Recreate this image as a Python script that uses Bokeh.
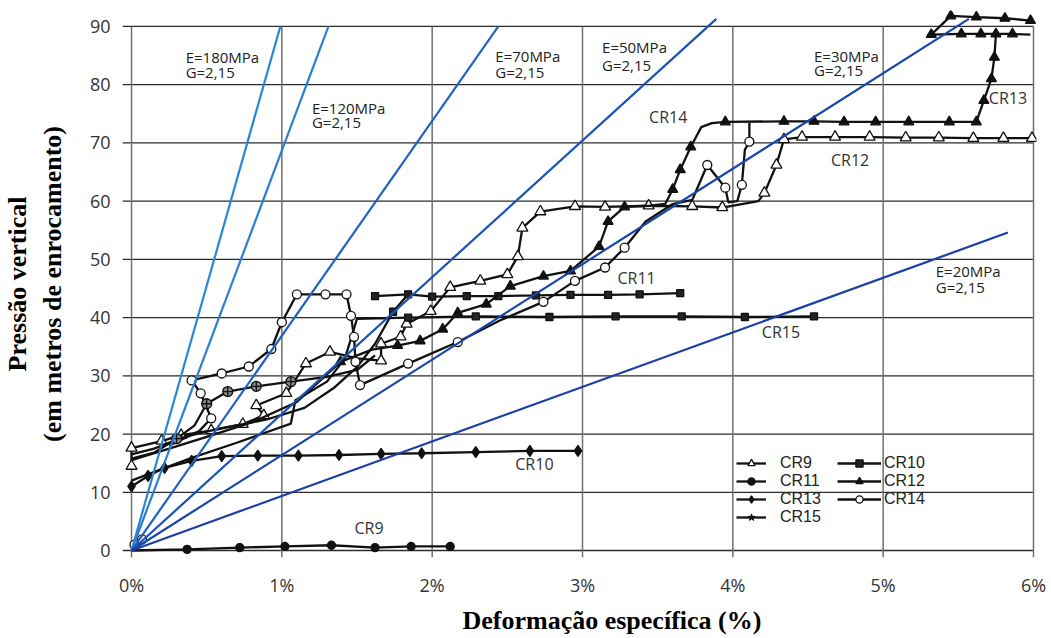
import math
from bokeh.plotting import figure
from bokeh.models import Range1d, FixedTicker, Legend, LegendItem, Title
from bokeh.core.properties import value
from bokeh.embed import file_html
from bokeh.resources import INLINE

nan = math.nan

# ---- axes -------------------------------------------------------------
x_ticks = [0, 1, 2, 3, 4, 5, 6]
x_tick_labels = ["0%", "1%", "2%", "3%", "4%", "5%", "6%"]
y_ticks = [0, 10, 20, 30, 40, 50, 60, 70, 80, 90]

# ---- modulus reference lines (from the origin) -------------------------
e_names = ["E=180MPa", "E=120MPa", "E=70MPa", "E=50MPa", "E=30MPa", "E=20MPa"]
g_names = ["G=2,15"] * 6
e_end_x = [0.99, 1.31, 2.44, 3.89, 5.57, 5.83]
e_end_y = [90.0, 90.0, 90.0, 91.3, 91.3, 54.6]

# ---- test curves (deformation %, vertical pressure m) ------------------
cr9_x = [0.00, 0.00, 0.20, 0.33, 0.53, 0.74, 0.88, 0.83, 1.03, 1.16, 1.32, 1.50, 1.66, 1.66,
         1.79, 1.83, 1.99, 2.12, 2.32, 2.50, 2.57, 2.60, 2.72, 2.95, 3.15, 3.44, 3.73, 3.93,
         4.17, 4.21, 4.29, 4.34, 4.46, 4.68, 4.91, 5.15, 5.37, 5.60, 5.80, 5.99]
cr9_y = [14.5, 17.6, 18.8, 19.8, 20.6, 21.7, 23.2, 24.9, 27.0, 32.1, 34.1, 33.0, 32.6, 35.5,
         36.7, 38.9, 41.1, 45.2, 46.3, 47.4, 50.5, 55.4, 58.2, 59.1, 59.0, 59.2, 59.1, 58.9,
         60.0, 61.4, 66.2, 70.6, 71.0, 71.0, 71.0, 70.9, 70.9, 70.8, 70.8, 70.8]
cr9_m = [1, 1, 1, 1, 1, 1, 1, 1, 1, 1, 1, 0, 1, 1,
         1, 1, 1, 1, 1, 1, 1, 1, 1, 1, 1, 1, 1, 1,
         0, 1, 1, 1, 1, 1, 1, 1, 1, 1, 1, 1]

cr10_x = [0.00, 0.15, 0.35, 0.60, 0.90, 1.15, 1.35, 1.50, 1.62, 1.74, 1.84, nan,
          1.62, 1.84, 2.00, 2.23, 2.44, 2.69, 2.92, 3.17, 3.38, 3.65, nan,
          0.00, 0.20, 0.40, 0.70, 1.06, 1.09, 1.19, 1.30, 1.42, 1.50, 1.84, 2.29, 2.78,
          3.22, 3.66, 4.08, 4.54]
cr10_y = [16.5, 17.5, 19.5, 21.0, 22.5, 24.5, 28.0, 31.5, 35.5, 41.0, 44.0, nan,
          43.7, 44.0, 43.6, 43.7, 43.7, 43.8, 43.9, 43.9, 44.0, 44.2, nan,
          12.0, 14.0, 15.9, 18.5, 21.8, 25.8, 27.3, 29.0, 33.0, 39.8, 40.0, 40.2, 40.1,
          40.2, 40.2, 40.1, 40.2]
cr10_m = [0, 0, 0, 0, 0, 0, 0, 0, 0, 1, 0, 0,
          1, 1, 1, 1, 1, 1, 1, 1, 1, 1, 0,
          0, 0, 0, 0, 0, 0, 0, 0, 0, 0, 1, 1, 1,
          1, 1, 1, 1]

cr11_x = [0.00, 0.37, 0.72, 1.02, 1.33, 1.62, 1.86, 2.12]
cr11_y = [0.0, 0.2, 0.5, 0.7, 0.9, 0.5, 0.7, 0.7]
cr11_m = [0, 1, 1, 1, 1, 1, 1, 1]

cr12_x = [0.00, 0.25, 0.50, 0.80, 1.10, 1.39, 1.60, 1.77, 1.92, 2.07, 2.17, 2.36, 2.52, 2.74,
          2.92, 3.11, 3.17, 3.28, 3.45, 3.55, 3.60, 3.65, 3.72, 3.79, 3.86, 3.95, 4.34, 4.54,
          4.74, 4.95, 5.17, 5.44, 5.62, 5.67, 5.72, 5.74, 5.75, 5.86, 5.98, nan,
          5.75, 5.65, 5.52, 5.32, 5.45, 5.62, 5.81, 5.98]
cr12_y = [15.5, 17.5, 19.5, 22.0, 25.5, 32.4, 34.5, 35.2, 36.0, 38.0, 40.8, 42.3, 45.4, 47.1,
          48.0, 52.2, 56.5, 59.0, 59.2, 59.5, 62.0, 65.4, 69.3, 72.7, 73.4, 73.6, 73.7, 73.7,
          73.6, 73.6, 73.6, 73.6, 73.6, 77.3, 81.0, 84.7, 88.7, 88.7, 88.6, nan,
          88.7, 88.7, 88.7, 88.6, 91.8, 91.6, 91.4, 91.0]
cr12_m = [0, 0, 0, 0, 0, 1, 0, 1, 1, 1, 1, 1, 1, 1,
          1, 1, 1, 1, 0, 0, 1, 1, 1, 0, 0, 1, 1, 1,
          1, 1, 1, 1, 1, 1, 1, 1, 1, 1, 0, 0,
          0, 1, 1, 1, 1, 1, 1, 1]

cr13_x = [0.00, 0.11, 0.22, 0.40, 0.60, 0.84, 1.11, 1.38, 1.66, 1.93, 2.29, 2.65, 2.97]
cr13_y = [11.0, 12.8, 14.2, 15.4, 16.2, 16.3, 16.3, 16.4, 16.6, 16.7, 16.9, 17.1, 17.1]
cr13_m = [1] * 13

cr14_x = [0.02, 0.07, nan, 0.25, 0.45, 0.53, 0.46, 0.40, 0.60, 0.78, 0.93, 1.00, 1.10, 1.29,
          1.43, 1.46, 1.48, 1.49, 1.52, 1.84, 2.17, 2.45, 2.74, 2.95, 3.15, 3.28, 3.42, 3.60,
          3.73, 3.83, 3.95, 3.97, 4.03, 4.06, 4.08, 4.11, 4.11]
cr14_y = [1.0, 1.9, nan, 18.0, 20.5, 22.7, 27.0, 29.2, 30.4, 31.6, 34.6, 39.2, 44.0, 44.0,
          44.0, 40.3, 36.7, 32.4, 28.4, 32.1, 35.8, 39.5, 42.7, 46.3, 48.6, 52.0, 56.5, 59.5,
          60.2, 66.2, 62.3, 59.8, 60.0, 62.8, 68.8, 70.2, 73.4]
cr14_m = [1, 1, 0, 0, 0, 1, 1, 1, 1, 1, 1, 1, 1, 1,
          1, 1, 1, 1, 1, 1, 1, 0, 1, 1, 1, 1, 0, 0,
          0, 1, 1, 0, 0, 1, 0, 1, 0]

cr15_x = [0.00, 0.15, 0.30, 0.42, 0.50, 0.64, 0.83, 1.06, 1.30, 1.50, 1.62]
cr15_y = [15.8, 16.8, 19.2, 21.5, 25.2, 27.3, 28.2, 29.0, 29.8, 31.0, 33.5]
cr15_m = [0, 0, 1, 0, 1, 1, 1, 1, 0, 0, 0]

# ---- in-chart curve tags -----------------------------------------------
tag_text = ["CR14", "CR11", "CR13", "CR12", "CR15", "CR10", "CR9"]
tag_x = [3.57, 3.36, 5.83, 4.78, 4.32, 2.68, 1.58]
tag_y = [74.4, 46.8, 77.7, 67.1, 37.5, 14.8, 3.9]

# label anchors for the modulus lines
e_lab_x = [0.36, 1.20, 2.42, 3.13, 4.54, 5.35]
e_lab_y = [84.7, 76.0, 84.9, 86.4, 84.9, 48.0]
g_lab_y = [82.1, 73.6, 82.1, 83.3, 82.5, 45.3]

X0, X1 = -0.06, 6.02
Y0, Y1 = -1.2, 92.73

p = figure(width=1051, height=638, x_range=Range1d(X0, X1), y_range=Range1d(Y0, Y1),
           output_backend="svg", toolbar_location=None,
           min_border_left=118, min_border_right=15, min_border_top=10, min_border_bottom=78)
p.outline_line_color = None
p.xgrid.visible = False
p.ygrid.visible = False
p.background_fill_color = "white"

SANS = "Open Sans"

# grid
p.segment(x0=[X0] * len(y_ticks), x1=[6.0] * len(y_ticks), y0=y_ticks, y1=y_ticks,
          line_color="#2b2b2b", line_width=1.3)
p.segment(x0=x_ticks, x1=x_ticks, y0=[Y0] * len(x_ticks), y1=[90] * len(x_ticks),
          line_color="#707070", line_width=1.5)

# axes
p.xaxis.ticker = FixedTicker(ticks=x_ticks)
p.xaxis.major_label_overrides = {t: l for t, l in zip(x_ticks, x_tick_labels)}
p.yaxis.ticker = FixedTicker(ticks=y_ticks)
for ax in (p.xaxis, p.yaxis):
    ax.axis_line_color = None
    ax.major_tick_line_color = None
    ax.minor_tick_line_color = None
    ax.major_label_text_font = SANS
    ax.major_label_text_font_size = "18px"
    ax.major_label_text_color = "#333333"
p.xaxis.major_label_standoff = 9
p.yaxis.major_label_standoff = 6
p.yaxis.axis_label = "Pressão vertical\n(em metros de enrocamento)"
p.yaxis.axis_label_text_font = "Liberation Serif"
p.yaxis.axis_label_text_font_style = "bold"
p.yaxis.axis_label_text_font_size = "26px"
p.yaxis.axis_label_text_color = "black"
p.yaxis.axis_label_standoff = 20

p.add_layout(Title(text="Deformação específica (%)", align="left", offset=340,
                   text_font="Liberation Serif", text_font_style="bold",
                   text_font_size="26px", text_color="black", standoff=8), "below")


def pick(xs, ys, ms):
    return ([x for x, m in zip(xs, ms) if m], [y for y, m in zip(ys, ms) if m])


def curve(xs, ys, ms, marker, size, fill, lw=1.3):
    ln = p.line(xs, ys, line_color="#111111", line_width=2.3)
    mx, my = pick(xs, ys, ms)
    sc = p.scatter(mx, my, marker=marker, size=size, fill_color=fill,
                   line_color="#111111", line_width=lw)
    return ln, sc


r9 = curve(cr9_x, cr9_y, cr9_m, "triangle", 11, "white")
r10 = curve(cr10_x, cr10_y, cr10_m, "square", 7, "#222222")
r11 = curve(cr11_x, cr11_y, cr11_m, "circle", 8, "#111111")
r12 = curve(cr12_x, cr12_y, cr12_m, "triangle", 10, "#111111")
r13 = curve(cr13_x, cr13_y, cr13_m, "diamond", 11, "#111111")
r14 = curve(cr14_x, cr14_y, cr14_m, "circle", 9, "white")
r15 = curve(cr15_x, cr15_y, cr15_m, "circle_cross", 10, "#8a8a8a")

# legend swatch for the star series (no point of its own on the chart)
star_line = p.line([nan], [nan], line_color="#111111", line_width=2.3)
star_mark = p.scatter([nan], [nan], marker="star", size=12, fill_color="#111111",
                      line_color="#111111", line_width=1.0)

# modulus lines
blues = ["#2a86d6", "#2a7fd2", "#1f63c0", "#1a52b5", "#1846aa", "#1a3fa5"]
p.segment(x0=[0] * 6, y0=[0] * 6, x1=e_end_x, y1=e_end_y, line_color=blues, line_width=2.2)

# texts
p.text(x=e_lab_x, y=e_lab_y, text=e_names, text_font=value(SANS), text_font_size="15px",
       text_align="left", text_baseline="middle", text_color="#222222")
p.text(x=e_lab_x, y=g_lab_y, text=g_names, text_font=value(SANS), text_font_size="15px",
       text_align="left", text_baseline="middle", text_color="#222222")
p.text(x=tag_x, y=tag_y, text=tag_text, text_font=value(SANS), text_font_size="16px",
       text_align="center", text_baseline="middle", text_color="#333333")

common = dict(orientation="vertical", glyph_height=18, label_height=18, spacing=0,
              padding=0, margin=0, background_fill_alpha=0, border_line_alpha=0,
              label_text_font="Liberation Sans", label_text_font_size="16px",
              label_text_color="#222222")
leg1 = Legend(items=[LegendItem(label="CR9", renderers=list(r9)),
                     LegendItem(label="CR11", renderers=list(r11)),
                     LegendItem(label="CR13", renderers=list(r13)),
                     LegendItem(label="CR15", renderers=[star_line, star_mark])],
              location=(614, 31), glyph_width=30, label_standoff=14, **common)
leg2 = Legend(items=[LegendItem(label="CR10", renderers=list(r10)),
                     LegendItem(label="CR12", renderers=list(r12)),
                     LegendItem(label="CR14", renderers=list(r14))],
              location=(715, 49), glyph_width=44, label_standoff=3, **common)
p.add_layout(leg1)
p.add_layout(leg2)

open("out.html", "w").write(file_html(p, INLINE))
